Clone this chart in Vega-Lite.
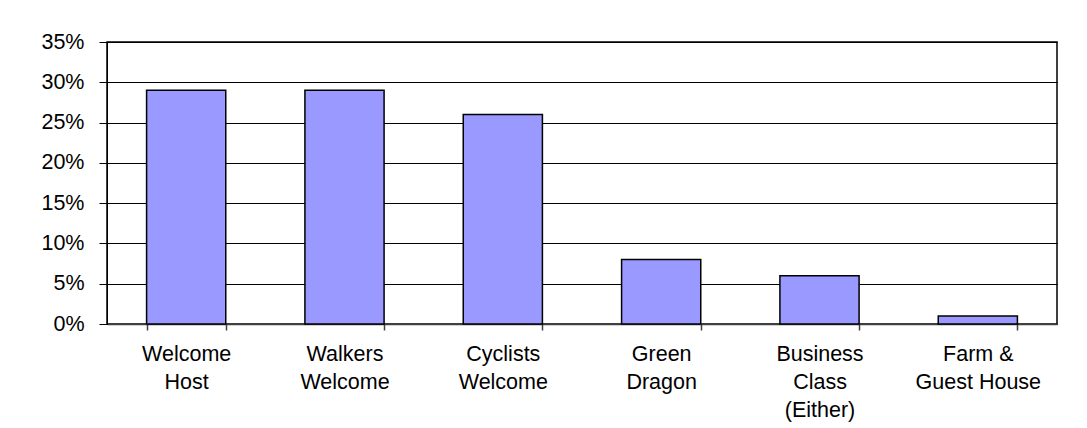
{
  "$schema": "https://vega.github.io/schema/vega-lite/v6.json",
  "autosize": "none",
  "width": 950,
  "height": 282,
  "padding": {"left": 107, "top": 42, "right": 30, "bottom": 104},
  "background": "white",
  "config": {
    "view": {"stroke": "#000000", "strokeWidth": 1.5},
    "font": "Liberation Sans"
  },
  "data": {
    "values": [
      {"category": "Welcome|Host", "share": 0.29},
      {"category": "Walkers|Welcome", "share": 0.29},
      {"category": "Cyclists|Welcome", "share": 0.26},
      {"category": "Green|Dragon", "share": 0.08},
      {"category": "Business|Class|(Either)", "share": 0.06},
      {"category": "Farm &|Guest House", "share": 0.01}
    ]
  },
  "mark": {"type": "bar", "fill": "#9999FF", "stroke": "#000000", "strokeWidth": 1.5},
  "encoding": {
    "x": {
      "field": "category",
      "type": "nominal",
      "sort": null,
      "scale": {"paddingInner": 0.5, "paddingOuter": 0.25},
      "axis": {
        "title": null,
        "labelAngle": 0,
        "labelExpr": "split(datum.label, '|')",
        "labelFontSize": 21.5,
        "labelColor": "#000000",
        "labelLineHeight": 28,
        "labelPadding": 13,
        "labelBaseline": "top",
        "labelLimit": 300,
        "tickBand": "extent",
        "tickSize": 6,
        "tickWidth": 1.5,
        "tickColor": "#404040",
        "domainColor": "#404040",
        "domainWidth": 1.5
      }
    },
    "y": {
      "field": "share",
      "type": "quantitative",
      "scale": {"domain": [0, 0.35]},
      "axis": {
        "title": null,
        "values": [0, 0.05, 0.1, 0.15, 0.2, 0.25, 0.3, 0.35],
        "format": ".0%",
        "labelFontSize": 21.5,
        "labelColor": "#000000",
        "labelPadding": 15,
        "tickSize": 8,
        "tickColor": "#000000",
        "domainColor": "#000000",
        "grid": true,
        "gridColor": "#000000",
        "gridWidth": 1
      }
    }
  }
}
